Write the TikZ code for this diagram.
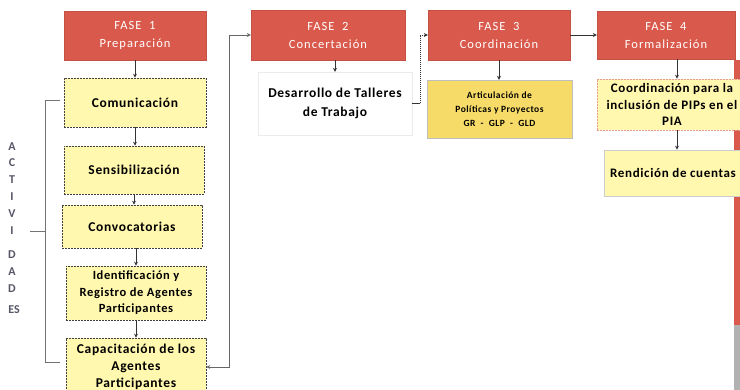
\documentclass[tikz,border=0pt]{standalone}
\usepackage{fontspec}
\setmainfont{Carlito}
\usetikzlibrary{arrows.meta}
\definecolor{fasered}{HTML}{D95A4C}
\definecolor{lyellow}{HTML}{FFF8AE}
\definecolor{dyellow}{HTML}{F7DB68}
\definecolor{actgray}{HTML}{555566}
\newfontfamily\wide[LetterSpace=5]{Carlito}
\newfontfamily\wider[LetterSpace=8]{Carlito}
\tikzset{
  fase/.style={fill=fasered, draw=fasered!90!black, line width=0.3pt, text=white, align=center, font=\wider\fontsize{12.5}{18}\selectfont, inner sep=0pt},
  act/.style={fill=lyellow, draw=black!75, dashed, dash pattern=on 2pt off 1pt, line width=0.6pt, align=center, font=\wide\bfseries\fontsize{13.5}{17}\selectfont, inner sep=0pt},
  plain/.style={fill=white, draw=black!8, align=center, font=\wide\bfseries\fontsize{13.5}{19}\selectfont, inner sep=0pt},
  art/.style={fill=dyellow, draw=black!25, align=center, font=\wide\bfseries\fontsize{9.5}{14}\selectfont, inner sep=0pt},
  pink/.style={fill=lyellow, draw=fasered!60, dashed, dash pattern=on 2pt off 1pt, line width=0.6pt, align=center, font=\wide\bfseries\fontsize{13}{16.5}\selectfont, inner sep=0pt},
  conn/.style={draw=black!80, line width=0.8pt, -{Stealth[length=4pt,width=4pt]}},
  brk/.style={draw=black!55, line width=0.8pt},
  letter/.style={text=actgray, font=\bfseries\fontsize{12}{12}\selectfont, inner sep=0pt}
}
\begin{document}
\begin{tikzpicture}[x=1pt,y=-1pt]
\useasboundingbox (0,0) rectangle (740,390);
\clip (0,0) rectangle (740,390);
\fill[white] (0,0) rectangle (740,390);
% right edge bar
\fill[fasered] (734,60) rectangle (740,325);
\fill[black!30] (734,325) rectangle (740,390);

% phases
\node[fase, minimum width=142pt, minimum height=49pt] (f1) at (135,35.5) {FASE\ \ 1\\Preparación};
\node[fase, minimum width=154pt, minimum height=50pt] (f2) at (328,35) {FASE\ \ 2\\Concertación};
\node[fase, minimum width=142pt, minimum height=50pt] (f3) at (499,35) {FASE\ \ 3\\Coordinación};
\node[fase, minimum width=138pt, minimum height=48pt] (f4) at (666,35) {FASE\ \ 4\\Formalización};

% phase 1 activities
\node[act, minimum width=142pt, minimum height=49pt] (com) at (135,102.5) {Comunicación};
\node[act, minimum width=140pt, minimum height=48pt] (sen) at (134,170) {Sensibilización};
\node[act, minimum width=140pt, minimum height=43pt] (conv) at (132,226.5) {Convocatorias};
\node[act, minimum width=140pt, minimum height=54pt, font=\wide\bfseries\fontsize{12.5}{16.5}\selectfont] (ide) at (136,293) {Identificación y\\Registro de Agentes\\Participantes};
\node[act, minimum width=140pt, minimum height=58pt, font=\wide\bfseries\fontsize{13.5}{17}\selectfont] (cap) at (136,367) {Capacitación de los\\Agentes\\Participantes};

% phase 2
\node[plain, minimum width=154pt, minimum height=63pt] (des) at (335,103.5) {Desarrollo de Talleres\\de Trabajo};
% phase 3
\node[art, minimum width=145pt, minimum height=58pt] (art) at (499.5,109) {Articulación de\\Políticas y Proyectos\\GR\ \ -\ \ GLP\ \ -\ \ GLD};
% phase 4
\node[pink, minimum width=160pt, minimum height=51pt] (coo) at (677,104.5) {};
\node[font=\wide\bfseries\fontsize{13}{16.5}\selectfont, align=center, inner sep=0pt] (cootxt) at (672,104.5) {Coordinación para la\\inclusión de PIPs en el\\PIA};
\node[pink, draw=black!20, solid, minimum width=152pt, minimum height=46pt] (ren) at (680,173) {};
\node[font=\wide\bfseries\fontsize{13}{16.5}\selectfont, inner sep=0pt] (rentxt) at (673,173) {Rendición de cuentas};

% vertical connectors
\draw[conn] (f1.south) -- (com.north);
\draw[conn] (com.south) -- (sen.north -| com.south);
\draw[conn] (sen.south) -- (conv.north -| sen.south);
\draw[conn] (conv.south -| ide.north) -- (ide.north);
\draw[conn] (ide.south) -- (cap.north);
\draw[conn] (f2.south -| des.north) -- (des.north);
\draw[conn] (f3.south) -- (art.north -| f3.south);
\draw[conn] (f4.south -| 677,0) -- (coo.north -| 677,0);
\draw[conn] (coo.south -| 677,0) -- (ren.north -| 677,0);

% links between phases
\coordinate (up2) at (229,35);
\draw[conn, {Stealth[length=4pt,width=4pt]}-{Stealth[length=4pt,width=4pt]}, draw=black!60] (cap.east) -| (up2) -- (f2.west);
\coordinate (up3) at (420,103.5);
\draw[conn, dash pattern=on 1.5pt off 0.5pt] (des.east) -- (up3) |- (f3.west);
\draw[conn] (f3.east) -- (f4.west);

% bracket
\coordinate (bt) at (45,100);
\coordinate (bb) at (45,362);
\coordinate (bm) at (45,231);
\coordinate (btr) at (60,100);
\coordinate (bbr) at (60,362);
\coordinate (bml) at (30,231);
\draw[brk] (btr) -- (bt) -- (bb) -- (bbr);
\draw[brk] (bm) -- (bml);

% ACTIVIDADES
\node[letter] (l1) at (12,147) {A};
\node[letter] (l2) at (12,163) {C};
\node[letter] (l3) at (12,180) {T};
\node[letter] (l4) at (12,197) {I};
\node[letter] (l5) at (12,214) {V};
\node[letter] (l6) at (12,231) {I};
\node[letter] (l7) at (12,255) {D};
\node[letter] (l8) at (12,272) {A};
\node[letter] (l9) at (12,289) {D};
\node[letter] (l10) at (14,310) {ES};
\end{tikzpicture}
\end{document}
